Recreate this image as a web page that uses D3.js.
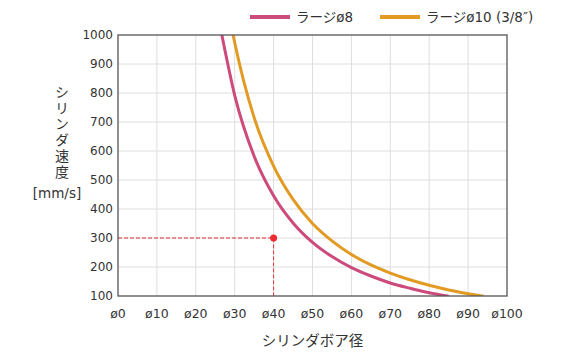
<!DOCTYPE html>
<html>
<head>
<meta charset="utf-8">
<script src="https://cdn.jsdelivr.net/npm/d3@7"></script>
<style>
  body { margin: 0; background: #fff; }
  text { font-family: "DejaVu Sans", "Noto Sans CJK JP", sans-serif; fill: #333; }
  .jp { font-family: "Noto Sans CJK JP", sans-serif; }
</style>
</head>
<body>
<div id="chart"></div>
<script>
// bore [mm] vs cylinder speed [mm/s]
const boreS8 = [26.7, 30, 35, 40, 45, 50, 55, 60, 65, 70, 75, 80, 85];
const speedS8 = [1000, 792, 582, 446, 352, 285, 236, 198, 169, 145, 127, 111, 99];
const boreS10 = [29.6, 30, 35, 40, 45, 50, 55, 60, 65, 70, 75, 80, 85, 90, 94];
const speedS10 = [1000, 974, 715, 548, 433, 350, 290, 243, 207, 179, 156, 137, 121, 108, 99];
const seriesNames = ["ラージø8", "ラージø10 (3/8″)"];
const xTicks = [0, 10, 20, 30, 40, 50, 60, 70, 80, 90, 100];
const yTicks = [100, 200, 300, 400, 500, 600, 700, 800, 900, 1000];
const marker = [40, 300];

const width = 576, height = 360;
const margin = { top: 35, right: 69, bottom: 64, left: 118 };

const svg = d3.select("#chart").append("svg")
  .attr("width", width)
  .attr("height", height);

const x = d3.scaleLinear().domain([0, 100]).range([margin.left, width - margin.right]);
const y = d3.scaleLinear().domain([100, 1000]).range([height - margin.bottom, margin.top]);

// grid
svg.append("g").selectAll("line.v")
  .data(xTicks.slice(1, -1))
  .join("line")
  .attr("x1", d => x(d)).attr("x2", d => x(d))
  .attr("y1", y(100)).attr("y2", y(1000))
  .style("stroke", "#dedede").style("stroke-width", 1);

svg.append("g").selectAll("line.h")
  .data(yTicks.slice(1, -1))
  .join("line")
  .attr("x1", x(0)).attr("x2", x(100))
  .attr("y1", d => y(d)).attr("y2", d => y(d))
  .style("stroke", "#dedede").style("stroke-width", 1);

// clip
svg.append("defs").append("clipPath").attr("id", "plot")
  .append("rect")
  .attr("x", x(0)).attr("y", y(1000))
  .attr("width", x(100) - x(0)).attr("height", y(100) - y(1000));

// marker dashed lines
svg.append("path")
  .attr("d", `M${x(0)},${y(marker[1])}H${x(marker[0])}V${y(100)}`)
  .style("fill", "none")
  .style("stroke", "#e0333a")
  .style("stroke-width", 1)
  .style("stroke-dasharray", "4,2");

const line = d3.line().x(d => x(d[0])).y(d => y(d[1])).curve(d3.curveMonotoneX);
const colors = ["#cc4a7c", "#e29a22"];

const plot = svg.append("g").attr("clip-path", "url(#plot)");
[[boreS8, speedS8], [boreS10, speedS10]].forEach((s, i) => {
  plot.append("path")
    .datum(d3.zip(s[0], s[1]))
    .attr("d", line)
    .style("fill", "none")
    .style("stroke", colors[i])
    .style("stroke-width", 3);
});

svg.append("circle")
  .attr("cx", x(marker[0])).attr("cy", y(marker[1]))
  .attr("r", 3.5)
  .style("fill", "#ec2a33");

// frame
svg.append("rect")
  .attr("x", x(0)).attr("y", y(1000))
  .attr("width", x(100) - x(0)).attr("height", y(100) - y(1000))
  .style("fill", "none")
  .style("stroke", "#555")
  .style("stroke-width", 1.3);

// tick labels
svg.append("g").selectAll("text")
  .data(yTicks)
  .join("text")
  .attr("x", x(0) - 5)
  .attr("y", d => y(d))
  .attr("dy", "0.35em")
  .attr("text-anchor", "end")
  .style("font-size", "12px")
  .text(d => d);

svg.append("g").selectAll("text")
  .data(xTicks)
  .join("text")
  .attr("x", d => x(d))
  .attr("y", y(100) + 22)
  .attr("text-anchor", "middle")
  .style("font-size", "12.5px")
  .text(d => "ø" + d);

// axis titles
svg.append("text")
  .attr("class", "jp")
  .attr("x", (x(0) + x(100)) / 2)
  .attr("y", 346)
  .attr("text-anchor", "middle")
  .style("font-size", "14.5px")
  .text("シリンダボア径");

svg.append("text")
  .attr("class", "jp")
  .attr("x", 62)
  .attr("y", 85)
  .style("writing-mode", "vertical-rl")
  .style("text-orientation", "upright")
  .style("letter-spacing", "2px")
  .style("font-size", "14px")
  .text("シリンダ速度");

svg.append("text")
  .attr("x", 57)
  .attr("y", 198)
  .attr("text-anchor", "middle")
  .style("font-size", "13.5px")
  .text("[mm/s]");

// legend
const legX = [250, 380];
seriesNames.forEach((n, i) => {
  svg.append("line")
    .attr("x1", legX[i]).attr("x2", legX[i] + 40)
    .attr("y1", 17).attr("y2", 17)
    .style("stroke", colors[i])
    .style("stroke-width", 4);
  svg.append("text")
    .attr("x", legX[i] + 46)
    .attr("y", 17)
    .attr("dy", "0.35em")
    .style("font-size", "13.5px")
    .text(n);
});
</script>
</body>
</html>
